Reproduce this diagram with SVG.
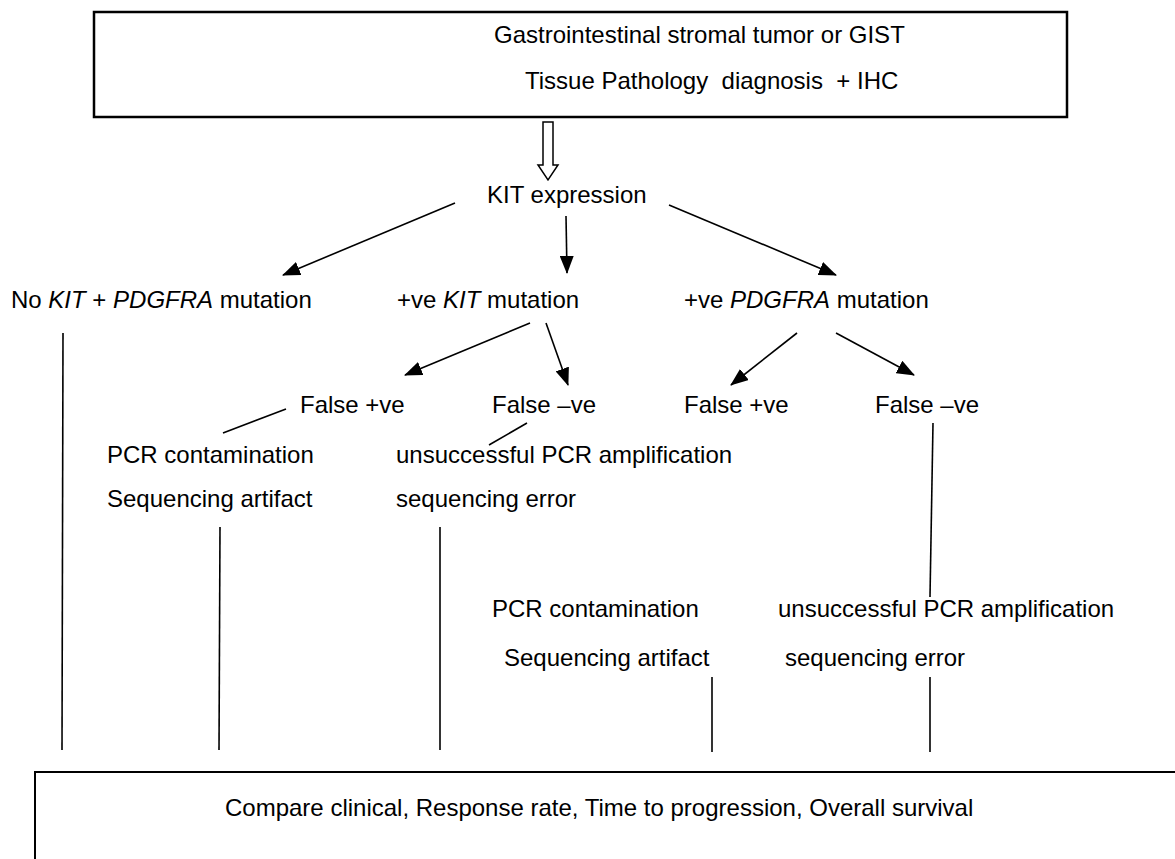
<svg xmlns="http://www.w3.org/2000/svg" width="1175" height="859" viewBox="0 0 1175 859">
<style>
text{font-family:"Liberation Sans",Arial,sans-serif;font-size:24px;fill:#000;white-space:pre}
.box{fill:#fff;stroke:#000}
.c line{stroke:#000;stroke-width:1.6}
.a{marker-end:url(#ah)}
</style>
<defs>
<marker id="ah" viewBox="0 0 18 14" refX="17" refY="7" markerWidth="18" markerHeight="14" markerUnits="userSpaceOnUse" orient="auto">
<path d="M0,0 L18,7 L0,14 Z" fill="#000"/>
</marker>
</defs>
<rect width="1175" height="859" fill="#fff"/>
<g id="top">
<rect class="box" x="94" y="12" width="973" height="105" stroke-width="2.5"/>
<text x="494" y="43">Gastrointestinal stromal tumor or GIST</text>
<text x="525" y="89">Tissue Pathology  diagnosis  + IHC</text>
</g>
<g id="hollow">
<polygon points="543,122 553,122 553,165 558,165 548,180 538,165 543,165" fill="#fff" stroke="#000" stroke-width="1.5"/>
</g>
<g id="kit"><text x="487" y="203">KIT expression</text></g>
<g id="nomut"><text x="11" y="308">No <tspan font-style="italic">KIT</tspan> + <tspan font-style="italic">PDGFRA</tspan> mutation</text></g>
<g id="kitmut"><text x="397" y="308">+ve <tspan font-style="italic">KIT</tspan> mutation</text></g>
<g id="pdgfmut"><text x="684" y="308">+ve <tspan font-style="italic">PDGFRA</tspan> mutation</text></g>
<g id="fp1"><text x="300" y="413">False +ve</text></g>
<g id="fn1"><text x="492" y="413">False –ve</text></g>
<g id="fp2"><text x="684" y="413">False +ve</text></g>
<g id="fn2"><text x="875" y="413">False –ve</text></g>
<g id="cause1">
<text x="107" y="463">PCR contamination</text>
<text x="107" y="507">Sequencing artifact</text>
</g>
<g id="cause2">
<text x="396" y="463">unsuccessful PCR amplification</text>
<text x="396" y="507">sequencing error</text>
</g>
<g id="cause3">
<text x="492" y="617">PCR contamination</text>
<text x="504" y="666">Sequencing artifact</text>
</g>
<g id="cause4">
<text x="778" y="617">unsuccessful PCR amplification</text>
<text x="785" y="666">sequencing error</text>
</g>
<g id="bottom">
<rect class="box" x="35" y="772" width="1200" height="200" stroke-width="2"/>
<text x="225" y="816">Compare clinical, Response rate, Time to progression, Overall survival</text>
</g>
<g id="connectors" class="c">
<line class="a" x1="455" y1="203" x2="283" y2="275"/>
<line class="a" x1="566" y1="216" x2="567" y2="273"/>
<line class="a" x1="669" y1="205" x2="836" y2="275"/>
<line class="a" x1="530" y1="323" x2="405" y2="375"/>
<line class="a" x1="546" y1="323" x2="568" y2="385"/>
<line class="a" x1="797" y1="333" x2="731" y2="385"/>
<line class="a" x1="836" y1="333" x2="914" y2="375"/>
<line x1="286" y1="409" x2="223" y2="433"/>
<line x1="527" y1="423" x2="489" y2="445"/>
<line x1="933" y1="423" x2="930" y2="597"/>
<line x1="63" y1="333" x2="62" y2="750"/>
<line x1="220" y1="527" x2="219" y2="750"/>
<line x1="440" y1="527" x2="440" y2="750"/>
<line x1="712" y1="677" x2="712" y2="752"/>
<line x1="930" y1="677" x2="930" y2="752"/>
</g>
</svg>
